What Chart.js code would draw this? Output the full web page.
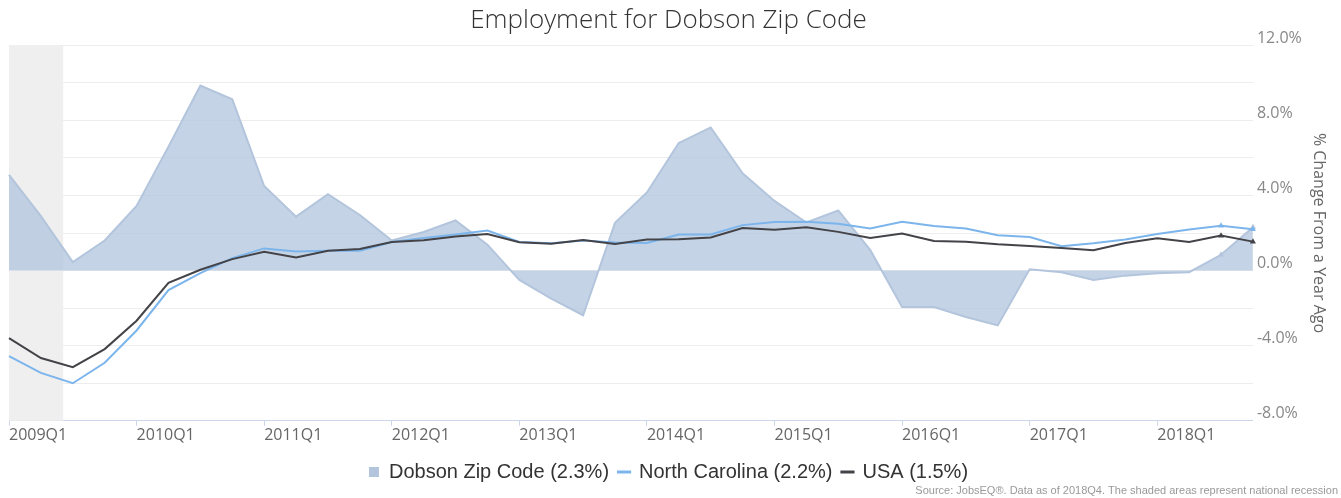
<!DOCTYPE html>
<html>
<head>
<meta charset="utf-8">
<script src="https://cdn.jsdelivr.net/npm/chart.js@4/dist/chart.umd.min.js"></script>
<style>
  html, body { margin: 0; padding: 0; background: #fff; }
  #wrap { width: 1341px; height: 498px; position: relative; }
</style>
</head>
<body>
<div id="wrap"><canvas id="emp-chart"></canvas></div>
<script>
/* global Chart */
const quarters = [];
for (let y = 2009; y <= 2018; y++) {
    for (let q = 1; q <= 4; q++) quarters.push(y + 'Q' + q);
}

const dobson = [
    5.1, 2.9, 0.45, 1.6, 3.44, 6.6, 9.85, 9.12,
    4.5, 2.87, 4.07, 2.96, 1.6, 2.05, 2.67, 1.38,
    -0.5, -1.49, -2.38, 2.54, 4.16, 6.79, 7.62, 5.18,
    3.71, 2.56, 3.2, 1.1, -1.94, -1.94, -2.47, -2.92,
    0.07, -0.09, -0.5, -0.27, -0.14, -0.09, 0.84, 2.3
];
const northCarolina = [
    -4.55, -5.45, -6.0, -4.91, -3.19, -1.04, -0.14, 0.66,
    1.18, 1.02, 1.06, 1.06, 1.52, 1.74, 1.92, 2.13,
    1.52, 1.45, 1.6, 1.49, 1.47, 1.92, 1.92, 2.42,
    2.58, 2.6, 2.49, 2.24, 2.6, 2.37, 2.24, 1.88,
    1.79, 1.29, 1.45, 1.65, 1.95, 2.19, 2.38, 2.2
];
const usa = [
    -3.6, -4.66, -5.14, -4.18, -2.67, -0.65, 0.04, 0.61,
    1.0, 0.7, 1.06, 1.15, 1.52, 1.61, 1.81, 1.94,
    1.51, 1.43, 1.63, 1.42, 1.65, 1.67, 1.76, 2.26,
    2.17, 2.31, 2.06, 1.74, 1.97, 1.58, 1.54, 1.4,
    1.31, 1.2, 1.08, 1.47, 1.72, 1.52, 1.86, 1.54
];
// recession band, in quarter index units
const recession = [0, 1.7];
const sourceNote = 'Source: JobsEQ®. Data as of 2018Q4. The shaded areas represent national recession';

const lastTwo = (ctx) => ctx.dataIndex >= quarters.length - 2 ? 3.5 : 0;

const recessionBand = {
    id: 'recessionBand',
    beforeDatasetsDraw(chart) {
        const { ctx, chartArea, scales } = chart;
        const x0 = scales.x.getPixelForValue(recession[0]);
        const x1 = scales.x.getPixelForValue(recession[1]);
        ctx.save();
        ctx.fillStyle = '#efefef';
        ctx.fillRect(x0, chartArea.top, x1 - x0, chartArea.bottom - chartArea.top);
        ctx.restore();
    }
};

const sourceText = {
    id: 'sourceText',
    afterDraw(chart) {
        const { ctx, width, height } = chart;
        ctx.save();
        ctx.font = '11px "Liberation Sans Narrow", "Liberation Sans", sans-serif';
        ctx.fillStyle = '#999';
        ctx.textAlign = 'right';
        ctx.textBaseline = 'middle';
        ctx.fillText(sourceNote, width - 3, height - 7);
        ctx.restore();
    }
};

new Chart(document.getElementById('emp-chart'), {
    type: 'line',
    data: {
        labels: quarters,
        datasets: [{
            label: 'Dobson Zip Code (2.3%)',
            data: dobson,
            borderColor: '#b3c5dc',
            backgroundColor: 'rgba(176,196,220,0.75)',
            borderWidth: 2,
            fill: 'origin',
            tension: 0,
            pointStyle: 'triangle',
            pointRadius: lastTwo,
            pointBackgroundColor: '#b3c5dc',
            pointBorderWidth: 0,
            order: 3
        }, {
            label: 'North Carolina (2.2%)',
            data: northCarolina,
            borderColor: '#7cb5ec',
            backgroundColor: '#7cb5ec',
            borderWidth: 2,
            fill: false,
            tension: 0,
            pointStyle: 'triangle',
            pointRadius: lastTwo,
            pointBorderWidth: 0,
            order: 2
        }, {
            label: 'USA (1.5%)',
            data: usa,
            borderColor: '#434348',
            backgroundColor: '#434348',
            borderWidth: 2,
            fill: false,
            tension: 0,
            pointStyle: 'triangle',
            pointRadius: lastTwo,
            pointBorderWidth: 0,
            order: 1
        }]
    },
    options: {
        responsive: true,
        maintainAspectRatio: false,
        animation: false,
        layout: { padding: { left: 9, right: 13, top: 0, bottom: 6 } },
        plugins: {
            title: {
                display: true,
                text: 'Employment for Dobson Zip Code',
                color: '#333',
                font: { family: 'Open Sans', size: 26, weight: '300' },
                padding: { top: 5, bottom: 9 }
            },
            legend: {
                position: 'bottom',
                labels: {
                    color: '#333',
                    font: { family: 'Liberation Sans', size: 20 },
                    usePointStyle: true,
                    boxWidth: 10,
                    boxHeight: 10,
                    padding: 10,
                    generateLabels(chart) {
                        const styles = ['rect', 'line', 'line'];
                        return chart.data.datasets.map((ds, i) => ({
                            text: ds.label,
                            fillStyle: ds.borderColor,
                            strokeStyle: ds.borderColor,
                            lineWidth: i === 0 ? 0 : 3,
                            pointStyle: styles[i],
                            datasetIndex: i,
                            fontColor: '#333'
                        }));
                    }
                }
            },
            tooltip: { enabled: false }
        },
        scales: {
            x: {
                offset: false,
                border: { color: '#ccd6eb', width: 1 },
                grid: {
                    drawOnChartArea: false,
                    tickLength: 5,
                    color: (ctx) => ctx.index % 4 === 0 ? '#ccd6eb' : 'rgba(0,0,0,0)'
                },
                ticks: {
                    autoSkip: false,
                    maxRotation: 0,
                    align: 'start',
                    padding: 0,
                    color: '#666',
                    font: { family: 'Open Sans', size: 16 },
                    callback: (v, i) => i % 4 === 0 ? quarters[i] : ''
                },
                afterFit: (scale) => { scale.height += 7; }
            },
            y: {
                position: 'right',
                min: -8,
                max: 12,
                border: { display: false },
                grid: { color: '#ededed', drawTicks: false },
                ticks: {
                    stepSize: 2,
                    padding: 4,
                    labelOffset: -7,
                    color: '#888',
                    font: { family: 'Open Sans', size: 16 },
                    callback: (v) => v % 4 === 0 ? v.toFixed(1) + '%' : ''
                },
                title: {
                    display: true,
                    text: '% Change From a Year Ago',
                    color: '#666',
                    font: { family: 'Open Sans', size: 16 },
                    padding: { top: 0, bottom: 3 }
                }
            }
        }
    },
    plugins: [recessionBand, sourceText]
});
</script>
</body>
</html>
